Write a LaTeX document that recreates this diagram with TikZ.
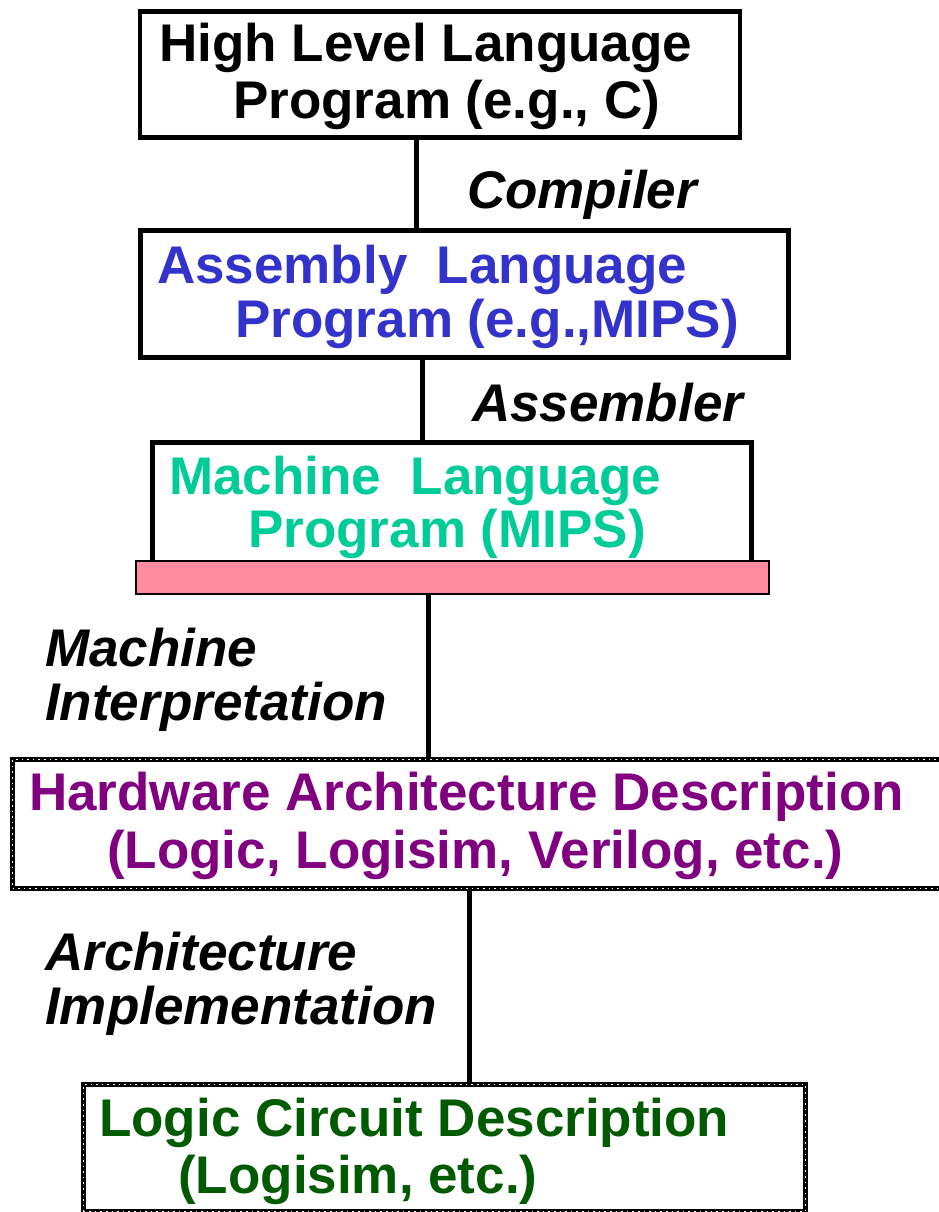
\documentclass[tikz,border=0pt]{standalone}
\usepackage{fontspec}
\setmainfont{Liberation Sans}
\definecolor{asmblue}{RGB}{51,51,204}
\definecolor{mlteal}{RGB}{0,204,153}
\definecolor{hwpurple}{RGB}{128,0,128}
\definecolor{lcgreen}{RGB}{0,90,0}
\definecolor{barpink}{RGB}{255,140,158}
\tikzset{
  box/.style={draw=black, line width=4.5pt, rectangle, inner sep=0pt, anchor=north west},
  chainbox/.style={draw=black, line width=5pt, rectangle, inner sep=0pt, anchor=north west,
    postaction={draw=white, line width=1.1pt, dash pattern=on 1.6pt off 4pt}},
  wire/.style={draw=black, line width=5pt},
  txt/.style={anchor=base west, inner sep=0pt, font=\fontsize{53}{56}\selectfont\bfseries},
  lbl/.style={txt, font=\fontsize{53}{56}\selectfont\bfseries\itshape},
}
\begin{document}
\begin{tikzpicture}[x=1pt, y=-1pt]
\useasboundingbox (0,0) rectangle (939,1212);
\fill[white] (0,0) rectangle (939,1212);
\begin{scope}
\clip (0,0) rectangle (939,1212);

% boxes
\node[box, minimum width=600, minimum height=126] (hll) at (137.5,9.5) {};
\node[box, minimum width=648, minimum height=127] (asm) at (138,228) {};
\node[box, minimum width=599, minimum height=140] (ml) at (150,440) {};
\node[draw=black, line width=2pt, fill=barpink, rectangle, inner sep=0pt,
      anchor=north west, minimum width=633, minimum height=33] (bar) at (134.5,559.5) {};
\node[chainbox, minimum width=960, minimum height=129] (hw) at (10,757) {};
\node[chainbox, minimum width=722, minimum height=127] (lc) at (81,1082) {};

% connectors
\coordinate (c1) at (416,0);
\coordinate (c2) at (422,0);
\coordinate (c3) at (428,0);
\coordinate (c4) at (469,0);
\draw[wire] (hll.south -| c1) -- (asm.north -| c1);
\draw[wire] (asm.south -| c2) -- ([yshift=-5pt]ml.north -| c2);
\draw[wire] (bar.south -| c3) -- (hw.north -| c3);
\draw[wire] (hw.south -| c4) -- (lc.north -| c4);
\end{scope}

% box texts
\node[txt] (t1a) at (159,62) {High Level Language};
\node[txt] (t1b) at (233,118) {Program (e.g., C)};
\node[txt, text=asmblue] (t2a) at (157,283) {Assembly\ \ Language};
\node[txt, text=asmblue] (t2b) at (235,337) {Program (e.g.,MIPS)};
\node[txt, text=mlteal] (t3a) at (169,494) {Machine\ \ Language};
\node[txt, text=mlteal] (t3b) at (248,547) {Program (MIPS)};
\node[txt, text=hwpurple] (t4a) at (29,810) {Hardware Architecture Description};
\node[txt, text=hwpurple] (t4b) at (107,868) {(Logic, Logisim, Verilog, etc.)};
\node[txt, text=lcgreen] (t5a) at (99,1136) {Logic Circuit Description};
\node[txt, text=lcgreen] (t5b) at (178,1193) {(Logisim, etc.)};

% step labels
\node[lbl] (l1) at (467,208) {Compiler};
\node[lbl] (l2) at (472,421) {Assembler};
\node[lbl] (l3a) at (45,666) {Machine};
\node[lbl] (l3b) at (45,720) {Interpretation};
\node[lbl] (l4a) at (45,970) {Architecture};
\node[lbl] (l4b) at (45,1024) {Implementation};
\end{tikzpicture}
\end{document}
